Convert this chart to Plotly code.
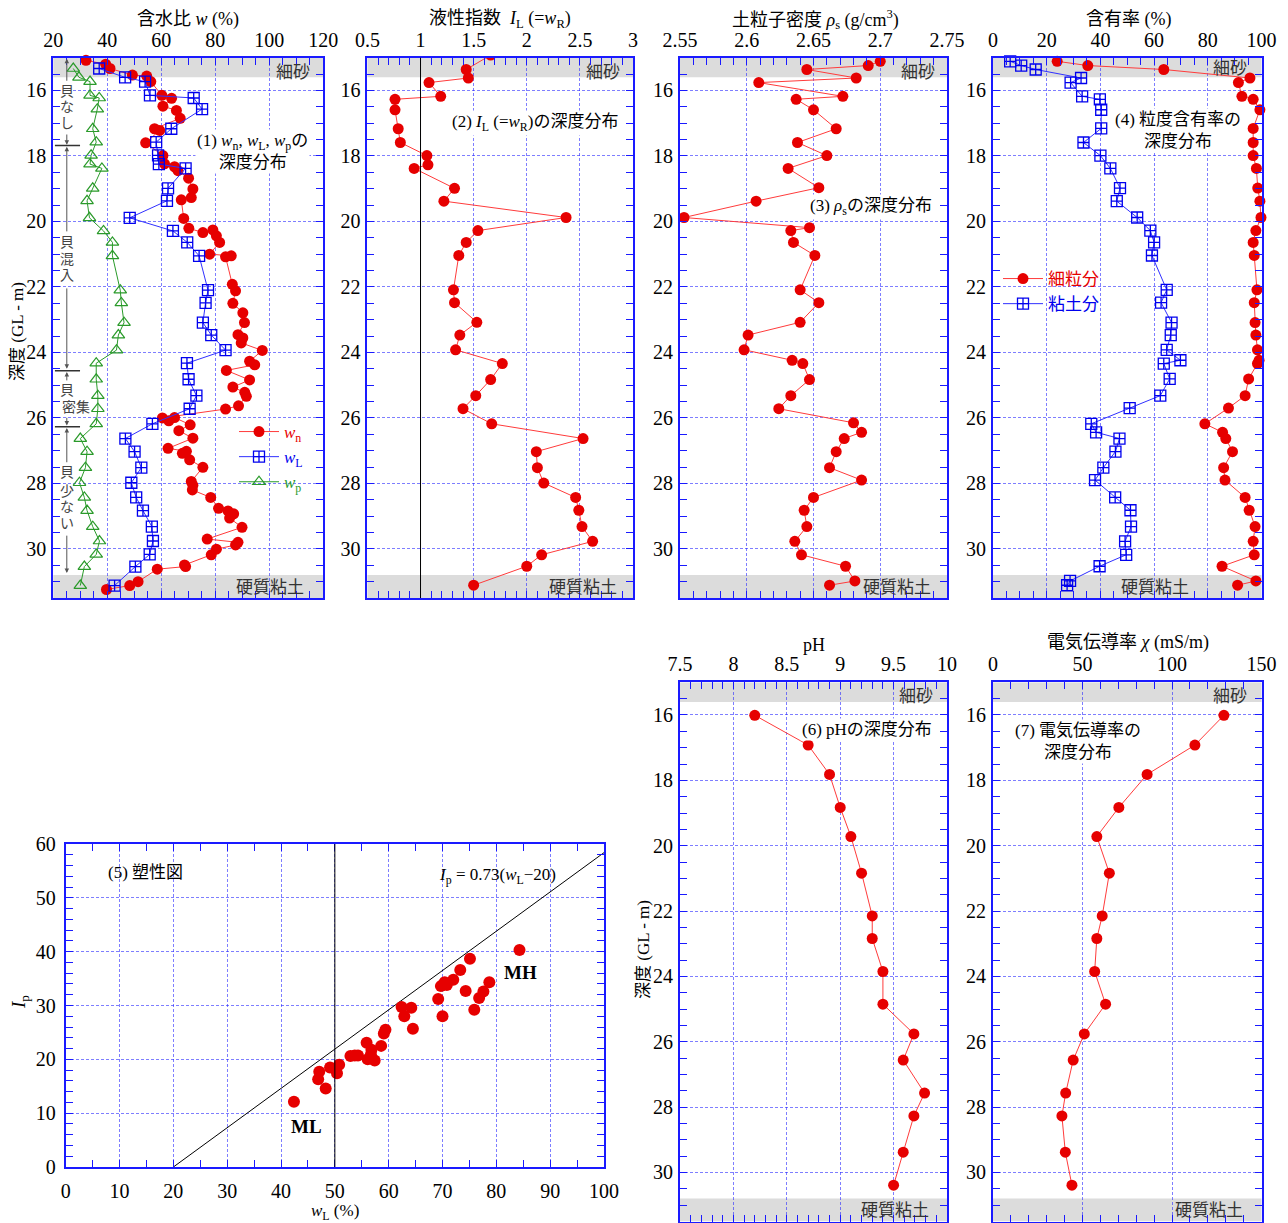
import plotly.graph_objects as go

# the page body adds an 8 px margin, so the figure is 1280x1215 and page pixels are shifted by 8
OFF = 8
W, H = 1288 - OFF, 1223 - OFF
FONT = "Liberation Serif, 'Noto Sans CJK JP', serif"
BLUE = '#1a1aff'
GRID = 'rgba(40,40,255,0.6)'
RED = '#e60000'
REDLINE = '#ff3b3b'
GREEN = '#2a9a2a'
BAND = '#dcdcdc'

# ---------------- data ----------------
# (1) natural water content
wn_depth = [15.08,15.20,15.33,15.53,15.56,15.73,16.15,16.24,16.48,16.61,16.85,17.17,17.22,17.60,17.99,18.24,18.33,18.45,18.68,19.01,
            19.27,19.34,19.91,20.21,20.34,20.26,20.44,20.64,21.00,21.05,21.08,21.92,22.12,22.50,22.79,23.09,23.46,23.56,23.71,23.94,
            24.27,24.38,24.55,24.84,25.06,25.22,25.34,25.63,25.73,26.00,26.09,25.99,26.21,26.39,26.62,26.93,27.02,27.08,27.28,27.51,
            27.94,28.06,28.20,28.43,28.76,28.84,28.93,29.06,29.34,29.70,29.80,29.88,30.01,30.18,30.49,30.54,30.62,31.00,31.12,31.24]
wn = [32.1,39.4,41.0,49.3,54.6,56.1,60.2,63.8,60.6,65.6,67.0,57.5,59.4,54.2,60.6,61.2,64.9,66.2,70.1,71.7,
      71.1,67.4,68.3,70.2,75.4,79.1,80.4,81.6,77.9,85.9,83.8,86.3,87.5,86.5,90.2,90.8,88.4,90.2,89.6,97.4,
      92.7,94.6,84.1,92.7,86.5,90.9,91.5,88.6,83.8,60.4,62.8,64.9,70.7,66.5,71.7,62.5,69.3,67.8,70.5,75.4,
      71.1,71.7,71.5,78.3,81.2,84.7,86.8,85.3,89.9,77.0,88.4,87.5,80.4,78.5,68.6,69.0,58.5,51.4,48.3,39.7]
# liquid / plastic limits
att_depth = [15.33,15.60,15.73,16.15,16.23,16.57,17.17,17.58,17.98,18.25,18.38,18.99,19.37,19.89,20.29,20.64,21.05,22.10,22.49,
             23.09,23.47,23.93,24.33,24.82,25.32,25.72,26.18,26.63,27.03,27.52,27.98,28.43,28.83,29.32,29.76,30.17,30.54,31.12]
wL = [37.0,46.6,54.0,55.8,72.0,75.1,63.7,58.1,58.8,59.1,69.0,62.5,62.1,48.3,64.3,69.6,74.0,77.3,76.4,
      75.4,78.5,83.8,69.5,70.1,73.0,70.5,56.7,46.7,50.1,52.6,48.9,50.7,53.2,56.5,56.9,55.7,50.4,42.7]
wp = [27.4,29.5,33.6,33.6,37.0,36.3,34.6,35.9,34.0,33.6,38.0,34.6,32.5,33.4,38.6,41.9,41.9,44.8,45.2,
      46.2,44.1,43.4,35.9,35.9,36.5,36.5,35.9,30.0,32.5,31.9,29.7,31.5,32.5,34.6,37.1,35.9,31.5,30.0]
# (2) liquidity index
il_depth = [14.92,15.36,15.62,15.76,16.18,16.27,16.59,17.17,17.59,17.99,18.27,18.38,18.99,19.38,19.88,20.28,20.64,21.04,22.09,22.48,
            23.08,23.47,23.92,24.34,24.83,25.32,25.72,26.18,26.63,27.03,27.52,27.99,28.43,28.82,29.32,29.77,30.18,30.53,31.11]
il = [1.66,1.43,1.45,1.08,1.19,0.76,0.76,0.79,0.81,1.06,1.07,0.94,1.32,1.22,2.37,1.54,1.43,1.36,1.31,1.32,
      1.53,1.37,1.33,1.77,1.66,1.52,1.40,1.67,2.53,2.09,2.10,2.16,2.46,2.49,2.52,2.62,2.14,2.00,1.50]
# (3) soil particle density
rho_depth = [15.11,15.24,15.36,15.62,15.76,16.18,16.27,16.59,17.17,17.59,17.99,18.38,18.97,19.38,19.88,20.19,20.28,20.64,21.04,22.09,
             22.48,23.08,23.47,23.92,24.24,24.34,24.83,25.32,25.72,26.15,26.44,26.63,27.03,27.52,27.90,28.43,28.82,29.32,29.77,30.18,
             30.53,30.98,31.11]
rho = [2.700,2.691,2.645,2.682,2.609,2.672,2.637,2.650,2.667,2.638,2.660,2.631,2.654,2.607,2.553,2.647,2.633,2.635,2.651,2.640,
       2.654,2.640,2.601,2.598,2.634,2.642,2.647,2.633,2.624,2.680,2.686,2.673,2.667,2.662,2.686,2.650,2.643,2.645,2.636,2.641,
       2.674,2.681,2.662]
# (4) grain size contents
gs_depth = [15.11,15.24,15.36,15.62,15.76,16.18,16.27,16.59,17.16,17.59,17.99,18.38,18.98,19.38,19.88,20.28,20.64,21.04,22.09,22.48,
            23.09,23.47,23.92,24.24,24.34,24.81,25.32,25.70,26.18,26.44,26.63,27.03,27.52,27.90,28.43,28.82,29.32,29.77,30.18,30.53,
            30.98,31.11]
fines = [23.9,35.3,63.6,95.7,91.4,92.7,96.9,99.4,96.9,96.9,96.9,98.1,98.6,99.4,99.8,97.9,96.9,97.3,98.3,97.3,
         97.6,97.9,98.5,99.1,98.5,95.2,93.9,87.7,78.9,85.5,86.7,89.2,85.9,86.4,93.9,95.4,97.6,96.9,97.3,85.3,
         97.9,91.1]
clay = [6.4,10.5,15.9,32.8,28.9,33.2,39.8,40.3,40.3,33.7,40.0,43.7,47.3,46.1,53.7,58.6,60.0,59.2,64.7,62.6,
        66.5,66.2,64.7,69.8,63.6,65.8,62.3,50.9,36.6,38.4,47.1,45.6,41.1,38.0,45.5,51.2,51.4,49.2,49.6,39.7,
        28.7,27.6]
# (5) plasticity chart
pc_wL = [42.4,46.9,47.1,48.3,49.1,50.4,50.8,52.9,53.7,54.3,55.9,56.1,56.8,56.7,57.4,58.6,59.1,59.4,62.4,62.9,
         64.2,64.5,69.2,69.7,70.0,70.4,70.8,72.0,73.3,74.3,75.1,75.9,76.8,77.6,78.7,84.3]
pc_Ip = [12.1,16.3,17.7,14.6,18.5,17.4,19.0,20.6,20.7,20.7,23.1,20.0,21.8,20.9,19.8,22.5,24.8,25.5,29.7,28.0,
         29.6,25.7,31.2,33.6,28.0,34.3,33.8,34.8,36.6,32.7,38.7,29.2,31.4,32.6,34.3,40.3]
aline_wL = [20, 100]
# (6)(7) pH and electric conductivity
chem_depth = [16.01,16.92,17.82,18.83,19.72,20.84,22.15,22.84,23.85,24.85,25.76,26.56,27.57,28.27,29.38,30.39]
ph = [8.20,8.70,8.90,9.00,9.10,9.20,9.30,9.30,9.40,9.40,9.69,9.59,9.79,9.69,9.59,9.50]
ec = [129.0,112.8,86.1,70.3,58.0,65.0,61.0,58.0,56.8,62.9,51.0,44.8,40.6,38.5,40.4,44.1]

# ---------------- helpers ----------------
def PX(x): return (x - OFF) / W
def PY(y): return 1 - (y - OFF) / H

def axis(**kw):
    d = dict(showline=True, linecolor=BLUE, linewidth=2, mirror='allticks', ticks='inside', ticklen=7,
             tickwidth=1, tickcolor=BLUE, showgrid=True, gridcolor=GRID, gridwidth=1, griddash='3px,2px',
             zeroline=False, tickfont=dict(family=FONT, size=20, color='black'), fixedrange=True,
             automargin=False)
    d.update(kw)
    return d

def minor(dt):
    return dict(dtick=dt, ticks='inside', ticklen=7, tickwidth=1, tickcolor=BLUE, showgrid=False)

TOP, BOT = 57.7, 598
TOP2, BOT2 = 682.3, 1221.5
panels = {
    1: (53.3, 323.3, TOP, BOT),
    2: (367.4, 633.0, TOP, BOT),
    3: (680.0, 947.0, TOP, BOT),
    4: (993.0, 1261.5, TOP, BOT),
    5: (680.0, 947.0, TOP2, BOT2),
    6: (993.0, 1261.5, TOP2, BOT2),
}
xspec = {
    1: dict(range=[20, 120], dtick=20, tick0=20, minor=minor(5)),
    2: dict(range=[0.5, 3], dtick=0.5, tick0=0.5, minor=minor(0.1)),
    3: dict(range=[2.55, 2.75], dtick=0.05, tick0=2.55, minor=minor(0.01)),
    4: dict(range=[0, 100], dtick=20, tick0=0, minor=minor(5)),
    5: dict(range=[7.5, 10], dtick=0.5, tick0=7.5, minor=minor(0.1)),
    6: dict(range=[0, 150], dtick=50, tick0=0, minor=minor(10)),
}

fig = go.Figure()
layout = dict(width=W, height=H, margin=dict(l=0, r=0, t=0, b=0, autoexpand=False),
              paper_bgcolor='white', plot_bgcolor='white',
              font=dict(family=FONT, size=18, color='black'))
for i, (x0, x1, t, b) in panels.items():
    s = '' if i == 1 else str(i)
    layout['xaxis' + s] = axis(domain=[PX(x0), PX(x1)], side='top', anchor='y' + s, ticklabelstandoff=1, **xspec[i])
    layout['yaxis' + s] = axis(domain=[max(0, PY(b)), PY(t)], range=[31.5, 15], dtick=2, tick0=16, anchor='x' + s,
                               minor=minor(0.5), ticklabelstandoff=1)
layout['xaxis7'] = axis(domain=[PX(65.7), PX(604)], range=[0, 100], dtick=10, tick0=0, side='bottom', anchor='y7',
                        minor=minor(5), ticklabelstandoff=5)
layout['yaxis7'] = axis(domain=[PY(1167), PY(844)], range=[0, 60], dtick=10, tick0=0, anchor='x7',
                        minor=minor(2), ticklabelstandoff=4)
layout['legend'] = dict(x=PX(234), y=PY(414), xanchor='left', yanchor='top', bgcolor='rgba(0,0,0,0)',
                        font=dict(family=FONT, size=17), tracegroupgap=0, itemwidth=40)
layout['legend2'] = dict(x=PX(998), y=PY(261), xanchor='left', yanchor='top', bgcolor='rgba(0,0,0,0)',
                         font=dict(family=FONT, size=17), tracegroupgap=0, itemwidth=40)
fig.update_layout(**layout)

def col(t, c):
    return f'<span style="color:{c}">{t}</span>'

red_marker = dict(symbol='circle', size=11, color=RED)
redline = dict(color=REDLINE, width=1)

# panel 1
fig.add_trace(go.Scatter(x=wn, y=wn_depth, mode='lines+markers', marker=red_marker, line=redline,
                         name=col('<i>w</i><sub>n</sub>', RED), xaxis='x', yaxis='y', cliponaxis=False, legend='legend'))
fig.add_trace(go.Scatter(x=wL, y=att_depth, mode='lines+markers',
                         marker=dict(symbol='square-cross-open', size=11, color='#0000ee', line=dict(width=1.3)),
                         line=dict(color='#3030ff', width=1), name=col('<i>w</i><sub>L</sub>', '#0000ee'),
                         xaxis='x', yaxis='y', cliponaxis=False, legend='legend'))
fig.add_trace(go.Scatter(x=wp, y=att_depth, mode='lines+markers',
                         marker=dict(symbol='triangle-up-open', size=11, color=GREEN, line=dict(width=1.2)),
                         line=dict(color=GREEN, width=1), name=col('<i>w</i><sub>p</sub>', GREEN),
                         xaxis='x', yaxis='y', cliponaxis=False, legend='legend'))
# panel 2
fig.add_trace(go.Scatter(x=il, y=il_depth, mode='lines+markers', marker=red_marker, line=redline,
                         xaxis='x2', yaxis='y2', showlegend=False, cliponaxis=True))
# panel 3
fig.add_trace(go.Scatter(x=rho, y=rho_depth, mode='lines+markers', marker=red_marker, line=redline,
                         xaxis='x3', yaxis='y3', showlegend=False, cliponaxis=False))
# panel 4
fig.add_trace(go.Scatter(x=fines, y=gs_depth, mode='lines+markers', marker=red_marker, line=redline,
                         name=col('細粒分', RED), xaxis='x4', yaxis='y4', cliponaxis=False, legend='legend2'))
fig.add_trace(go.Scatter(x=clay, y=gs_depth, mode='lines+markers',
                         marker=dict(symbol='square-cross-open', size=11, color='#0000ee', line=dict(width=1.3)),
                         line=dict(color='#3030ff', width=1), name=col('粘土分', '#0000ee'),
                         xaxis='x4', yaxis='y4', cliponaxis=False, legend='legend2'))
# panel 6, 7
fig.add_trace(go.Scatter(x=ph, y=chem_depth, mode='lines+markers', marker=red_marker, line=redline,
                         xaxis='x5', yaxis='y5', showlegend=False, cliponaxis=False))
fig.add_trace(go.Scatter(x=ec, y=chem_depth, mode='lines+markers', marker=red_marker, line=redline,
                         xaxis='x6', yaxis='y6', showlegend=False, cliponaxis=False))
# panel 5
fig.add_trace(go.Scatter(x=aline_wL, y=[0.73 * (v - 20) for v in aline_wL], mode='lines',
                         line=dict(color='black', width=1), xaxis='x7', yaxis='y7', showlegend=False))
fig.add_trace(go.Scatter(x=pc_wL, y=pc_Ip, mode='markers', marker=dict(symbol='circle', size=12, color=RED),
                         xaxis='x7', yaxis='y7', showlegend=False, cliponaxis=False))

shapes = []
for i in range(1, 7):
    s = '' if i == 1 else str(i)
    for y0, y1 in [(15.0, 15.6), (30.8, 31.5)]:
        shapes.append(dict(type='rect', xref=f'x{s} domain', yref=f'y{s}', x0=0, x1=1, y0=y0, y1=y1,
                           fillcolor=BAND, line=dict(width=0), layer='below'))
shapes.append(dict(type='line', xref='x2', yref='y2 domain', x0=1, x1=1, y0=0, y1=1,
                   line=dict(color='black', width=1)))
shapes.append(dict(type='line', xref='x7', yref='y7 domain', x0=50, x1=50, y0=0, y1=1,
                   line=dict(color='black', width=1)))
# shell-zone separators in panel 1
for d in [17.68, 24.56, 26.27]:
    shapes.append(dict(type='line', xref='x', yref='y', x0=20.6, x1=29.9, y0=d, y1=d,
                       line=dict(color='#333333', width=1.5)))
fig.update_layout(shapes=shapes)

ann = []
def text(x, y, t, size=18, color='black', **kw):
    d = dict(x=PX(x), y=PY(y), xref='paper', yref='paper', text=t, showarrow=False,
             font=dict(family=FONT, size=size, color=color), xanchor='center', yanchor='middle')
    d.update(kw)
    ann.append(d)

# axis titles
text(188, 20, '含水比 <i>w</i> (%)')
text(500, 20, '液性指数  <i>I</i><sub>L</sub> (=<i>w</i><sub>R</sub>)')
text(815, 20, '土粒子密度 <i>ρ</i><sub>s</sub> (g/cm<sup>3</sup>)')
text(1128, 20, '含有率 (%)')
text(814, 645, 'pH')
text(1128, 643, '電気伝導率 <i>χ</i> (mS/m)')
text(18, 332, '深度 (GL - m)', size=17, textangle=-90)
text(643, 950, '深度 (GL - m)', size=17, textangle=-90)
text(335, 1212, '<i>w</i><sub>L</sub> (%)', size=17)
text(20, 1002, '<i>I</i><sub>p</sub>', size=19, textangle=-90)

# layer labels
for (x, y) in [(293, 72), (603, 72), (918, 72), (1230, 68), (916, 696), (1230, 696)]:
    text(x, y, '細砂', size=17, color='#333333')
for (x, y) in [(270, 587), (583, 587), (897, 587), (1155, 587), (895, 1210), (1209, 1210)]:
    text(x, y, '硬質粘土', size=17, color='#333333')

# panel captions
text(252, 151, '(1) <i>w</i><sub>n</sub>, <i>w</i><sub>L</sub>, <i>w</i><sub>p</sub>の<br>深度分布', size=17, bgcolor='white')
text(535, 123, '(2) <i>I</i><sub>L</sub> (=<i>w</i><sub>R</sub>)の深度分布', size=17, bgcolor='white')
text(871, 207, '(3) <i>ρ</i><sub>s</sub>の深度分布', size=17, bgcolor='white')
text(1178, 131, '(4) 粒度含有率の<br>深度分布', size=17, bgcolor='white')
text(867, 729, '(6) pHの深度分布', size=17, bgcolor='white')
text(1078, 741, '(7) 電気伝導率の<br>深度分布', size=17, bgcolor='white')
text(145, 872, '(5) 塑性図', size=17)
text(497, 876, '<i>I</i><sub>p</sub> = 0.73(<i>w</i><sub>L</sub>−20)', size=17)
text(306, 1126, '<b>ML</b>', size=19)
text(520, 972, '<b>MH</b>', size=19)

# shell occurrence notes in panel 1 (vertical text)
def ch(d, t, xv=25.0, anchor='center'):
    ann.append(dict(x=xv, y=d, xref='x', yref='y', text=t, showarrow=False, xanchor=anchor, yanchor='middle',
                    font=dict(family=FONT, size=14, color='#444444')))
for d, t in [(16.03, '貝'), (16.52, 'な'), (17.01, 'し'),
             (20.65, '貝'), (21.17, '混'), (21.66, '入'),
             (25.15, '貝'),
             (27.66, '貝'), (28.24, '少'), (28.74, 'な'), (29.22, 'い')]:
    ch(d, t)
ch(25.67, '密集', xv=22.3, anchor='left')

def arrow(tail, head):
    ann.append(dict(x=25.0, y=head, ax=25.0, ay=tail, xref='x', yref='y', axref='x', ayref='y', text='',
                    showarrow=True, arrowhead=2, arrowsize=0.9, arrowwidth=1, arrowcolor='#555555', standoff=0))
for tail, head in [(15.75, 15.03), (17.30, 17.66), (20.35, 17.72), (22.00, 24.50),
                   (24.90, 24.60), (25.95, 26.23), (27.40, 26.31), (29.55, 30.74)]:
    arrow(tail, head)

fig.update_layout(annotations=ann)
fig.write_html('out.html')
